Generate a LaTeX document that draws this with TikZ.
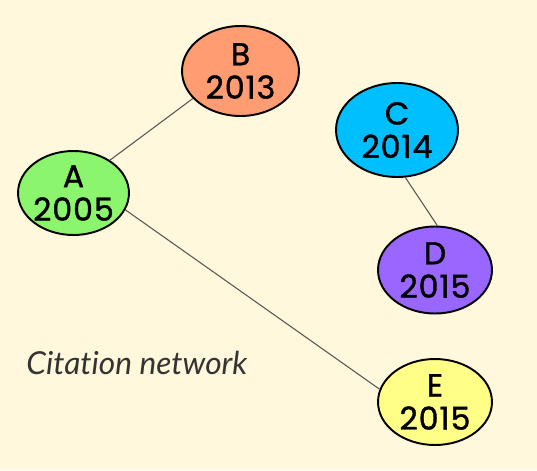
\documentclass[tikz,border=0pt]{standalone}
\usepackage{fontspec}
\usetikzlibrary{shapes.geometric}
\newfontfamily\paperfont[FakeBold=1.2, LetterSpace=3]{Poppins}
\newfontfamily\notefont[Ligatures=NoCommon]{Lato}
\definecolor{cream}{HTML}{FFF8DC}
\definecolor{colA}{HTML}{8CF56E}
\definecolor{colB}{HTML}{FF9C72}
\definecolor{colC}{HTML}{00BFFF}
\definecolor{colD}{HTML}{9966FF}
\definecolor{colE}{HTML}{FFFF88}
\definecolor{linkgray}{HTML}{555555}
\tikzstyle{paper} = [ellipse, draw = black, line width = 1.1pt, inner xsep = -14pt, inner ysep = -8pt, align = center, font = \paperfont\fontsize{18}{19}\selectfont]
\tikzstyle{cite} = [draw = linkgray, line width = 0.6pt]

\begin{document}
\begin{tikzpicture}[x = 0.02cm, y = -0.02cm]
\fill [cream] (0,0) rectangle (537,470);
\useasboundingbox (0,0) rectangle (537,470);

\node (B) [paper, fill=colB, minimum width = 2.34cm, minimum height = 1.8cm] at (240.5,71) {B\\2013};
\node (C) [paper, fill=colC, minimum width = 2.44cm, minimum height = 1.88cm] at (397,130) {C\\2014};
\node (A) [paper, fill=colA, minimum width = 2.22cm, minimum height = 1.68cm] at (73.5,193) {A\\2005};
\node (D) [paper, fill=colD, minimum width = 2.28cm, minimum height = 1.74cm] at (435,270) {D\\2015};
\node (E) [paper, fill=colE, minimum width = 2.28cm, minimum height = 1.72cm] at (435,402) {E\\2015};

\node (title) [anchor = base west, inner sep = 0pt, text = black!80, font = \notefont\itshape\fontsize{18}{19}\selectfont] at (26,374) {Citation network};

\draw [cite] (A.42) -- (B.210);
\draw [cite] (C.-80) -- (D.87);
\draw [cite] (A.-18) -- (E.167);
\end{tikzpicture}
\end{document}
